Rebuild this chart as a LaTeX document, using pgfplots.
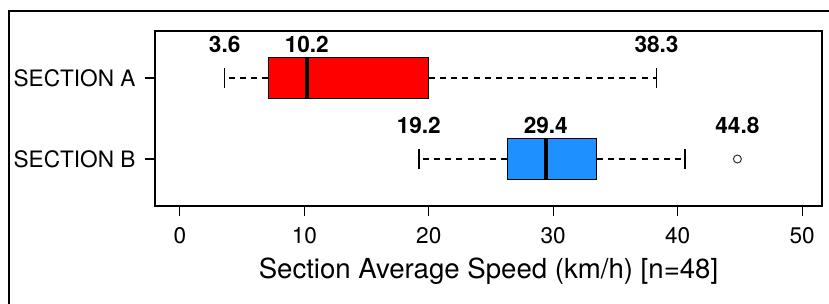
\documentclass[border=0pt]{standalone}
\usepackage{pgfplots}
\pgfplotsset{compat=1.18}
\usepgfplotslibrary{statistics}
\usepackage{fontspec}
\setmainfont{TeX Gyre Heros}
\definecolor{boxblue}{RGB}{30,144,255}
\begin{document}
\begin{tikzpicture}
\useasboundingbox (-77.5bp,-49bp) rectangle (337bp,103bp);
\draw[line width=0.8bp] (-73bp,-60bp) -- (-73bp,97.5bp) -- (345bp,97.5bp);
\begin{axis}[
  at={(0,0)}, anchor=south west,
  scale only axis, width=333.5bp, height=87.5bp,
  xmin=-2, xmax=51.6, ymin=0.42, ymax=2.58,
  xtick={0,10,20,30,40,50},
  ytick={1,2}, yticklabels={SECTION B, SECTION A},
  tick align=outside, major tick length=4.75bp,
  tick pos=left,
  axis line style={line width=0.6bp},
  tick style={line width=0.6bp, black},
  /pgf/number format/assume math mode=true,
  tick label style={font=\fontsize{11.3bp}{13bp}\selectfont},
  xticklabel style={yshift=-2.5bp},
  yticklabel style={xshift=-1.5bp},
  xlabel={Section Average Speed (km/h) [n=48]},
  xlabel style={font=\fontsize{13.8bp}{16bp}\selectfont},
  boxplot/draw direction=x,
]
% Section A
\addplot[black, line width=0.6bp,
  boxplot prepared={lower whisker=3.6, lower quartile=7.1, median=10.2,
    upper quartile=20.0, upper whisker=38.3, draw position=2,
    box extend=0.5, whisker extend=0},
  boxplot/every box/.style={fill=red},
  boxplot/every whisker/.style={dash pattern=on 3bp off 2.6bp},
  boxplot/every median/.style={line width=2bp},
] coordinates {};
% Section B
\addplot[black, line width=0.6bp,
  boxplot prepared={lower whisker=19.2, lower quartile=26.3, median=29.4,
    upper quartile=33.5, upper whisker=40.6, draw position=1,
    box extend=0.5, whisker extend=0},
  boxplot/every box/.style={fill=boxblue},
  boxplot/every whisker/.style={dash pattern=on 3bp off 2.6bp},
  boxplot/every median/.style={line width=2bp},
] coordinates {};
% whisker caps
\addplot[black, line width=0.7bp, forget plot] coordinates {(3.6,1.875) (3.6,2.125)};
\addplot[black, line width=0.7bp, forget plot] coordinates {(38.3,1.875) (38.3,2.125)};
\addplot[black, line width=0.7bp, forget plot] coordinates {(19.2,0.875) (19.2,1.125)};
\addplot[black, line width=0.7bp, forget plot] coordinates {(40.6,0.875) (40.6,1.125)};
% outlier
\addplot[only marks, mark=o, mark size=2bp, mark options={line width=0.5bp, draw=black!80}] coordinates {(44.8,1)};
% value labels
\addplot[draw=none, mark=none, nodes near coords, point meta=explicit symbolic,
  nodes near coords style={anchor=center, font=\fontsize{11.3bp}{13bp}\selectfont\bfseries}]
  table[meta=lab] {
x y lab
3.6 2.41 3.6
10.2 2.41 10.2
38.3 2.41 38.3
19.2 1.42 19.2
29.4 1.42 29.4
44.8 1.42 44.8
};
\end{axis}
\end{tikzpicture}
\end{document}
